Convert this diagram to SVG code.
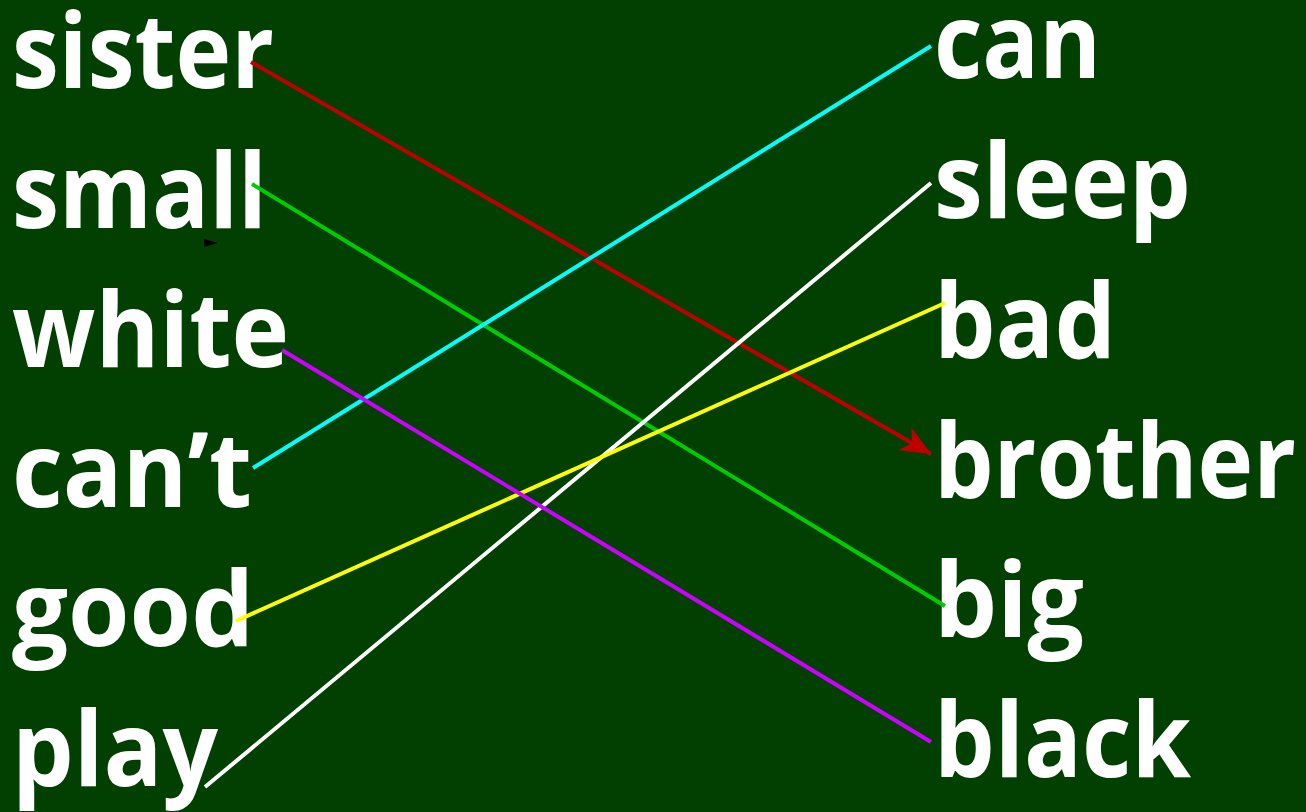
<svg xmlns="http://www.w3.org/2000/svg" width="1306" height="812" viewBox="0 0 1306 812">
<style>
.w{font-family:"Open Sans","Liberation Sans",sans-serif;font-weight:bold;font-size:104px;fill:#ffffff;lengthAdjust:spacing}
.c{fill:none;stroke-width:4;stroke-linecap:butt}
</style>
<defs>
<marker id="ar" markerUnits="userSpaceOnUse" markerWidth="32" markerHeight="26" refX="30" refY="13" orient="auto">
<path d="M0,0 L30,13 L0,26 L8,13 z" fill="#c00000"/>
</marker>
</defs>
<rect width="1306" height="812" fill="#024002"/>
<g id="left-sister"><text class="w" x="12" y="88" textLength="262" lengthAdjust="spacingAndGlyphs">sister</text></g>
<g id="left-small"><text class="w" x="12" y="228" textLength="255" lengthAdjust="spacingAndGlyphs">small</text></g>
<g id="left-white"><text class="w" x="12" y="367" textLength="277" lengthAdjust="spacingAndGlyphs">white</text></g>
<g id="left-cant"><text class="w" x="12" y="507" textLength="240" lengthAdjust="spacingAndGlyphs">can’t</text></g>
<g id="left-good"><text class="w" x="12" y="646" textLength="242" lengthAdjust="spacingAndGlyphs">good</text></g>
<g id="left-play"><text class="w" x="12" y="786" textLength="206" lengthAdjust="spacingAndGlyphs">play</text></g>
<g id="right-can"><text class="w" x="934" y="78" textLength="167" lengthAdjust="spacingAndGlyphs">can</text></g>
<g id="right-sleep"><text class="w" x="934" y="218" textLength="257" lengthAdjust="spacingAndGlyphs">sleep</text></g>
<g id="right-bad"><text class="w" x="934" y="358" textLength="182" lengthAdjust="spacingAndGlyphs">bad</text></g>
<g id="right-brother"><text class="w" x="934" y="498" textLength="362" lengthAdjust="spacingAndGlyphs">brother</text></g>
<g id="right-big"><text class="w" x="934" y="637" textLength="150" lengthAdjust="spacingAndGlyphs">big</text></g>
<g id="right-black"><text class="w" x="934" y="777" textLength="257" lengthAdjust="spacingAndGlyphs">black</text></g>
<g id="connectors">
<line class="c" x1="251" y1="62" x2="931" y2="454" stroke="#c00000" marker-end="url(#ar)"/>
<line class="c" x1="252" y1="184" x2="945" y2="606" stroke="#00cc00"/>
<line class="c" x1="253" y1="468" x2="931" y2="46" stroke="#00ffff"/>
<line class="c" x1="205" y1="787" x2="931" y2="183" stroke="#ffffff"/>
<line class="c" x1="236" y1="621" x2="945" y2="303" stroke="#ffff00"/>
<line class="c" x1="282" y1="350" x2="931" y2="742" stroke="#cc00ff"/>
</g>
<polygon points="204,239 218,243 204,247" fill="#000000"/>
</svg>
